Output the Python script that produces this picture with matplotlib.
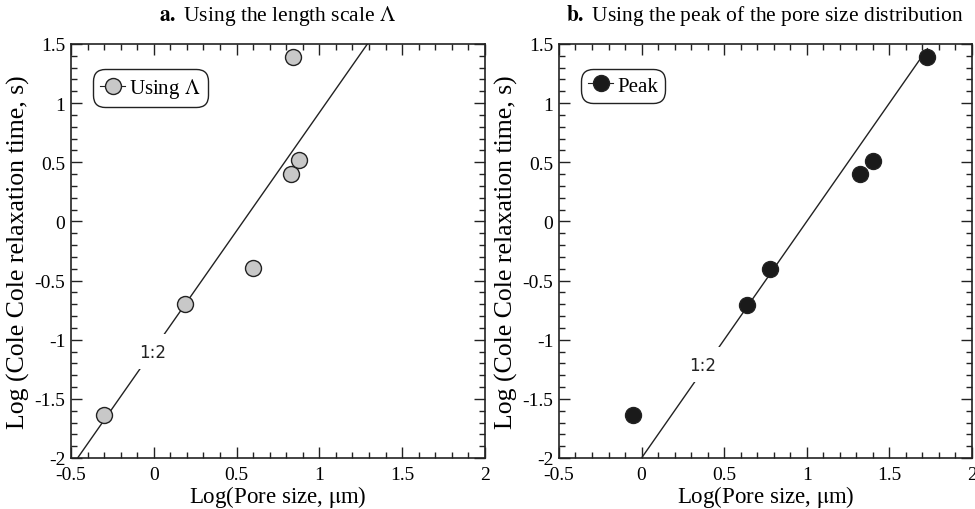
import matplotlib.pyplot as plt
from matplotlib.ticker import MultipleLocator

plt.rcParams['font.family'] = ['Liberation Serif', 'DejaVu Serif']
plt.rcParams['mathtext.fontset'] = 'stix'

# Данные: панель a (длина Λ) и панель b (пик распределения)
lam_x = [-0.30, 0.19, 0.60, 0.83, 0.88, 0.84]
lam_y = [-1.64, -0.70, -0.39, 0.40, 0.52, 1.39]
peak_x = [-0.05, 0.64, 0.78, 1.32, 1.40, 1.73]
peak_y = [-1.64, -0.71, -0.40, 0.40, 0.51, 1.39]

# Линии 1:2 (наклон 2)
lam_line_x = [-0.46, 1.29]
lam_line_y = [-2.0, 1.5]
peak_line_x = [0.0, 1.73]
peak_line_y = [-2.0, 1.46]

fig = plt.figure(figsize=(9.75, 5.1), dpi=100)
ax1 = fig.add_axes([0.0728, 0.1, 0.4246, 0.8118])
ax2 = fig.add_axes([0.5733, 0.1, 0.4236, 0.8118])

panels = [
    (ax1, lam_x, lam_y, lam_line_x, lam_line_y, '#c8c8c8', r'Using $\Lambda$',
     r'$\mathbf{a.}\ $Using the length scale $\Lambda$', (-0.005, -1.10)),
    (ax2, peak_x, peak_y, peak_line_x, peak_line_y, '#1a1a1a', 'Peak',
     r'$\mathbf{b.}\ $Using the peak of the pore size distribution', (0.37, -1.21)),
]

for ax, xs, ys, lx, ly, fc, lab, title, txt in panels:
    ax.plot(lx, ly, color='#222222', lw=1.0, zorder=1)
    ax.plot(xs, ys, 'o', ms=11.5, mfc=fc, mec='#222222', mew=1.0, zorder=3)
    h, = ax.plot([], [], '-o', color='#222222', lw=0.8, ms=11.5, mfc=fc,
                 mec='#222222', mew=1.0)
    ax.text(txt[0], txt[1], '1:2', family='DejaVu Sans', fontsize=12,
            ha='center', va='center', color='#222222', zorder=2,
            bbox=dict(fc='white', ec='none', pad=6))
    leg = ax.legend([h], [lab], loc='upper left', bbox_to_anchor=(0.053, 0.94),
                    borderaxespad=0, fontsize=15, handlelength=1.2,
                    handletextpad=0.2, borderpad=0.35, fancybox=True,
                    framealpha=1, edgecolor='#222222')
    leg.get_frame().set_linewidth(1.0)
    leg.get_frame().set_boxstyle('round', pad=0.0, rounding_size=0.6)
    ax.set_xlim(-0.5, 2)
    ax.set_ylim(-2, 1.5)
    ax.xaxis.set_minor_locator(MultipleLocator(0.1))
    ax.yaxis.set_minor_locator(MultipleLocator(0.1))
    ax.set_xticks([-0.5, 0, 0.5, 1, 1.5, 2])
    ax.set_xticklabels(['-0.5', '0', '0.5', '1', '1.5', '2'])
    ax.set_yticks([-2, -1.5, -1, -0.5, 0, 0.5, 1, 1.5])
    ax.set_yticklabels(['-2', '-1.5', '-1', '-0.5', '0', '0.5', '1', '1.5'])
    ax.tick_params(which='both', direction='in', top=True, right=True,
                   labelsize=14, color='#222222')
    ax.tick_params(axis='x', which='major', pad=6)
    ax.tick_params(axis='y', which='major', pad=4)
    ax.tick_params(which='major', length=8, width=1.0)
    ax.tick_params(which='minor', length=4, width=1.0)
    for s in ax.spines.values():
        s.set_linewidth(1.2)
        s.set_color('#222222')
    ax.set_xlabel(r'Log(Pore size, $\mathrm{\mu}$m)', fontsize=16.5, labelpad=0)
    ax.set_ylabel('Log (Cole Cole relaxation time, s)', fontsize=18.5, labelpad=3)
    ax.set_title(title, fontsize=15.5, pad=17)

plt.savefig('out.png', dpi=100)
